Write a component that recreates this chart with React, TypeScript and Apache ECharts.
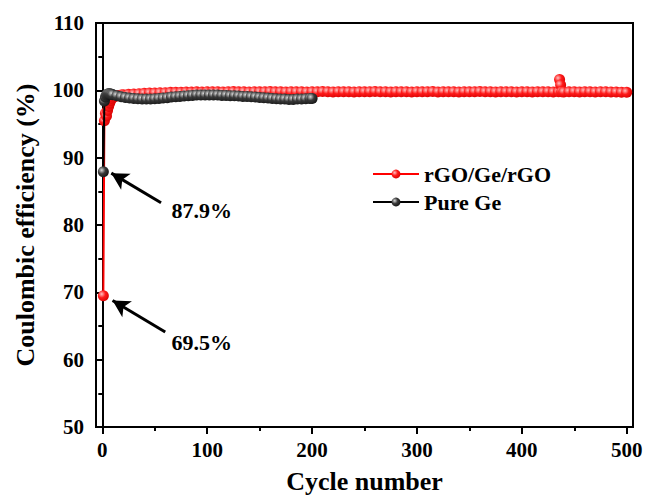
import React, { useEffect, useRef } from "react";
import * as echarts from "echarts";

// rGO/Ge/rGO coulombic efficiency (%) by cycle
const redCycles = [
  1, 2, 3, 4, 5, 6, 7, 8, 9, 10, 12, 14, 16, 18, 20, 25, 30, 35, 40, 45, 50, 55, 60, 65, 70, 75, 80, 85, 90, 95,
  100, 105, 110, 115, 120, 125, 130, 135, 140, 145, 150, 155, 160, 165, 170, 175, 180, 185, 190, 195,
  200, 205, 210, 215, 220, 225, 230, 235, 240, 245, 250, 255, 260, 265, 270, 275, 280, 285, 290, 295,
  300, 305, 310, 315, 320, 325, 330, 335, 340, 345, 350, 355, 360, 365, 370, 375, 380, 385, 390, 395,
  400, 405, 410, 415, 420, 425, 430, 435, 436, 437, 438, 440, 445, 450, 455, 460, 465, 470, 475, 480,
  485, 490, 495, 500,
];
const redValues = [
  69.5, 95.5, 96.6, 96.2, 97.0, 97.6, 98.1, 98.5, 98.8, 99.0, 99.1, 99.2, 99.25, 99.3, 99.35, 99.4, 99.45, 99.5, 99.55, 99.6,
  99.6, 99.65, 99.65, 99.7, 99.7, 99.72, 99.75, 99.75, 99.78, 99.76,
  99.8, 99.78, 99.8, 99.77, 99.8, 99.82, 99.78, 99.8, 99.76, 99.8, 99.78, 99.8, 99.82, 99.78, 99.8, 99.77, 99.8, 99.78, 99.8, 99.76,
  99.8, 99.78, 99.82, 99.8, 99.77, 99.8, 99.78, 99.8, 99.76, 99.8, 99.78, 99.8, 99.82, 99.78, 99.8, 99.77, 99.8, 99.78, 99.8, 99.76,
  99.8, 99.78, 99.8, 99.82, 99.77, 99.8, 99.78, 99.8, 99.76, 99.8, 99.78, 99.8, 99.82, 99.78, 99.8, 99.77, 99.8, 99.78, 99.8, 99.76,
  99.78, 99.8, 99.77, 99.8, 99.78, 99.8, 99.76, 99.78, 101.6, 100.8, 99.8, 99.76, 99.78, 99.8, 99.77, 99.8, 99.78, 99.76, 99.8, 99.78,
  99.76, 99.74, 99.72, 99.7,
];

// Pure Ge coulombic efficiency (%) by cycle
const blackCycles = [
  1, 2, 3, 4, 5, 6, 7, 8, 9, 10, 14, 18, 22, 26, 30, 34, 38, 42, 46, 50, 54, 58, 62, 66, 70, 74, 78, 82, 86, 90,
  94, 98, 102, 106, 110, 114, 118, 122, 126, 130, 134, 138, 142, 146, 150, 154, 158, 162, 166, 170,
  174, 178, 182, 186, 190, 194, 198, 200,
];
const blackValues = [
  87.9, 98.4, 99.0, 99.3, 99.45, 99.5, 99.5, 99.45, 99.4, 99.35, 99.2, 99.05, 98.95, 98.85, 98.8, 98.75, 98.7, 98.7, 98.7, 98.75,
  98.8, 98.85, 98.9, 99.0, 99.05, 99.1, 99.15, 99.2, 99.25, 99.3,
  99.3, 99.3, 99.3, 99.3, 99.3, 99.25, 99.25, 99.2, 99.2, 99.15, 99.1, 99.1, 99.05, 99.0, 98.95, 98.9, 98.85, 98.8, 98.75, 98.7,
  98.7, 98.65, 98.65, 98.7, 98.7, 98.75, 98.8, 98.8,
];

const xMajorTicks = [0, 100, 200, 300, 400, 500];
const xMinorTicks = [50, 150, 250, 350, 450];

// annotations
const annoLabels = ["87.9%", "69.5%"];
const annoTail = [[56, 83.3], [60, 64.1]];
const annoTip = [[8.6, 87.7], [9.8, 68.8]];
const annoText = [[66, 82.2], [66, 62.6]];

const FONT = "'Liberation Serif', 'Times New Roman', serif";

export default function App() {
  const ref = useRef<HTMLDivElement>(null);
  useEffect(() => {
    document.body.style.margin = "0";
    if (!ref.current) return;
    const chart = echarts.init(ref.current, null, { renderer: "svg" });
    const ball = (light: string, mid: string, dark: string) => ({
      type: "radial",
      x: 0.35,
      y: 0.35,
      r: 0.75,
      colorStops: [
        { offset: 0, color: light },
        { offset: 0.45, color: mid },
        { offset: 1, color: dark },
      ],
    });
    const textBase = { fontFamily: FONT, fontWeight: "bold", color: "#000" };
    chart.setOption({
      animation: false,
      backgroundColor: "#fff",
      grid: {
        left: 96,
        right: 13,
        top: 23,
        bottom: 70,
        show: true,
        borderColor: "#000",
        borderWidth: 2,
        outerBoundsMode: "none",
      },
      legend: {
        left: 372,
        top: 163,
        padding: 0,
        orient: "vertical",
        itemWidth: 46,
        itemHeight: 11,
        itemGap: 6,
        textStyle: { ...textBase, fontSize: 22 },
        data: ["rGO/Ge/rGO", "Pure Ge"],
      },
      xAxis: [
        {
          type: "value",
          min: -6,
          max: 506,
          position: "bottom",
          name: "Cycle number",
          nameLocation: "middle",
          nameGap: 41,
          nameTextStyle: { ...textBase, fontSize: 26 },
          axisLine: { show: true, lineStyle: { color: "#000", width: 2 } },
          axisTick: { show: true, length: 7, lineStyle: { color: "#000", width: 2 }, customValues: xMajorTicks },
          axisLabel: { ...textBase, fontSize: 21, margin: 12, customValues: xMajorTicks },
          splitLine: { show: false },
        },
        {
          type: "value",
          min: -6,
          max: 506,
          position: "bottom",
          offset: 0,
          axisLine: { show: false },
          axisTick: { show: true, length: 4, lineStyle: { color: "#000", width: 2 }, customValues: xMinorTicks },
          axisLabel: { show: false, customValues: xMinorTicks },
          splitLine: { show: false },
        },
      ],
      yAxis: {
        type: "value",
        min: 50,
        max: 110,
        interval: 10,
        name: "Coulombic efficiency (%)",
        nameLocation: "middle",
        nameGap: 58,
        nameTextStyle: { ...textBase, fontSize: 26 },
        axisLine: { show: true, lineStyle: { color: "#000", width: 2 } },
        axisTick: { show: true, length: 7, lineStyle: { color: "#000", width: 2 } },
        minorTick: { show: true, splitNumber: 2, length: 4, lineStyle: { color: "#000", width: 2 } },
        axisLabel: { ...textBase, fontSize: 21, margin: 12 },
        splitLine: { show: false },
      },
      series: [
        {
          name: "rGO/Ge/rGO",
          type: "line",
          data: redCycles.map((c, i) => [c, redValues[i]]),
          symbol: "circle",
          symbolSize: 11,
          showAllSymbol: true,
          itemStyle: { color: ball("#ffc0c0", "#ff1a1a", "#d40000") },
          lineStyle: { color: "#ff0000", width: 2 },
          z: 2,
          markLine: {
            silent: true,
            symbol: ["none", "arrow"],
            symbolSize: [14, 17],
            lineStyle: { color: "#000", width: 3, type: "solid" },
            label: { show: false },
            data: annoTail.map((t, i) => [{ coord: t }, { coord: annoTip[i] }]),
          },
          markPoint: {
            silent: true,
            symbol: "circle",
            symbolSize: 0,
            label: { show: true, position: "right", distance: 0, ...textBase, fontSize: 22 },
            data: annoText.map((p, i) => ({ coord: p, value: annoLabels[i], label: { formatter: annoLabels[i] } })),
          },
        },
        {
          name: "Pure Ge",
          type: "line",
          data: blackCycles.map((c, i) => [c, blackValues[i]]),
          symbol: "circle",
          symbolSize: 11,
          showAllSymbol: true,
          itemStyle: { color: ball("#d8d8d8", "#3a3a3a", "#111") },
          lineStyle: { color: "#000", width: 2 },
          z: 3,
        },
      ],
    });
    return () => chart.dispose();
  }, []);
  return <div ref={ref} style={{ width: 646, height: 497 }} />;
}
